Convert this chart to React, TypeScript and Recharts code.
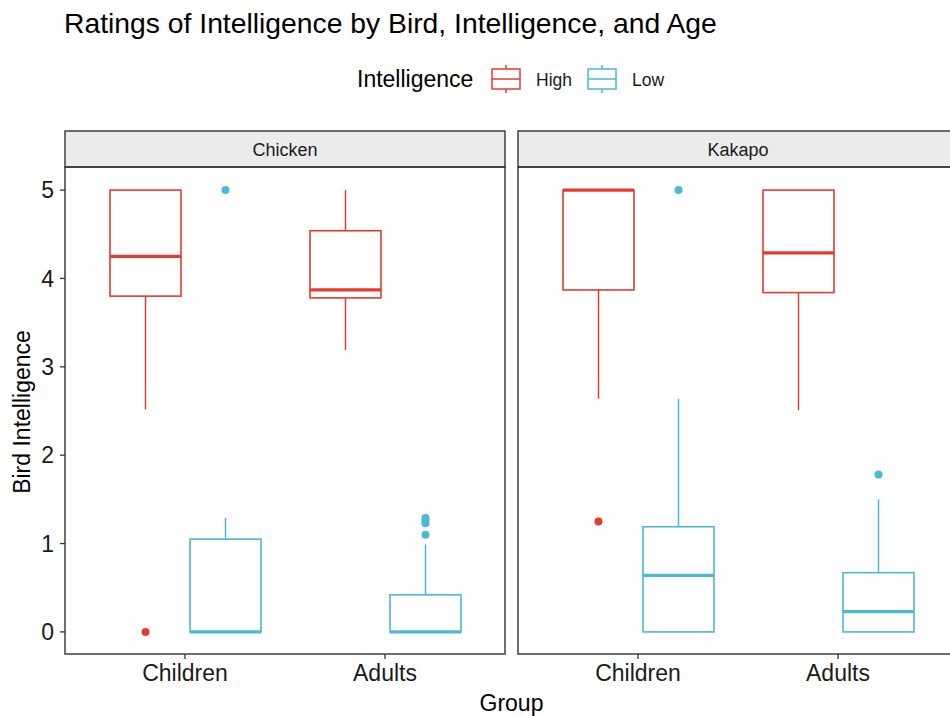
import React from 'react'
import { ComposedChart, Bar, XAxis, YAxis } from 'recharts'

const FONT = '"Liberation Sans", Arial, Helvetica, sans-serif'
const HIGH = '#E33B2E'
const LOW = '#4BB8D4'
const INK = '#1a1a1a'
const FRAME = '#333333'

const groups = ['Children', 'Adults']
const yTicks = [0, 1, 2, 3, 4, 5]

// five-number summaries per group: [lower whisker, Q1, median, Q3, upper whisker]
const chickenHigh = [
  [2.52, 3.8, 4.25, 5, 5],
  [3.19, 3.78, 3.87, 4.54, 5],
]
const chickenLow = [
  [0, 0, 0, 1.05, 1.29],
  [0, 0, 0, 0.42, 0.99],
]
const kakapoHigh = [
  [2.64, 3.87, 5, 5, 5],
  [2.51, 3.84, 4.29, 5, 5],
]
const kakapoLow = [
  [0, 0, 0.64, 1.19, 2.64],
  [0, 0, 0.23, 0.67, 1.5],
]

// outlying ratings per group
const chickenHighOut = [[0], []]
const chickenLowOut = [[5], [1.1, 1.23, 1.26, 1.29]]
const kakapoHighOut = [[1.25], []]
const kakapoLowOut = [[5], [1.78]]

type Row = {
  group: string
  high: number[]
  low: number[]
  highOut: number[]
  lowOut: number[]
}

const buildRows = (high: number[][], low: number[][], highOut: number[][], lowOut: number[][]): Row[] =>
  groups.map((group, i) => ({
    group,
    high: high[i],
    low: low[i],
    highOut: highOut[i],
    lowOut: lowOut[i],
  }))

const chickenRows = buildRows(chickenHigh, chickenLow, chickenHighOut, chickenLowOut)
const kakapoRows = buildRows(kakapoHigh, kakapoLow, kakapoHighOut, kakapoLowOut)

// The bar spans whisker to whisker; box, median and outliers are placed
// from that span, since the value axis is linear.
function boxShape(key: 'high' | 'low', color: string) {
  return (props: any) => {
    const { x, y, width, height, payload } = props
    const [lo, q1, med, q3, hi] = payload[key] as number[]
    const outs = payload[key + 'Out'] as number[]
    const top = Math.min(y, y + height)
    const bottom = Math.max(y, y + height)
    const ppu = (bottom - top) / (hi - lo)
    const py = (v: number) => top + (hi - v) * ppu
    const cx = x + width / 2
    return (
      <g>
        <line x1={cx} x2={cx} y1={py(hi)} y2={py(q3)} stroke={color} strokeWidth={1.5} />
        <line x1={cx} x2={cx} y1={py(q1)} y2={py(lo)} stroke={color} strokeWidth={1.5} />
        <rect x={x} y={py(q3)} width={width} height={py(q1) - py(q3)} fill="#fff" stroke={color} strokeWidth={1.6} />
        <line x1={x} x2={x + width} y1={py(med)} y2={py(med)} stroke={color} strokeWidth={3.2} />
        {outs.map((v, i) => (
          <circle key={i} cx={cx} cy={py(v)} r={4} fill={color} />
        ))}
      </g>
    )
  }
}

const PLOT_H = 486
const AXIS_H = 62

function Panel({ rows, left, showY }: { rows: Row[]; left: number; showY: boolean }) {
  const yw = showY ? 65 : 0
  return (
    <div style={{ position: 'absolute', left: left - yw, top: 168 }}>
      <ComposedChart
        width={440 + yw}
        height={PLOT_H + AXIS_H}
        data={rows}
        margin={{ top: 0, right: 0, bottom: 0, left: 0 }}
        barGap={9}
      >
        <XAxis
          dataKey="group"
          type="category"
          padding={{ left: 20, right: 20 }}
          height={AXIS_H}
          axisLine={false}
          tickSize={5}
          tickMargin={6}
          tickLine={{ stroke: FRAME, strokeWidth: 1.3 }}
          tick={{ fill: INK, fontSize: 23, fontFamily: FONT }}
        />
        <YAxis
          type="number"
          domain={[-0.25, 5.25]}
          ticks={yTicks}
          allowDataOverflow
          hide={!showY}
          width={yw}
          axisLine={false}
          tickSize={5}
          tickMargin={6}
          tickLine={{ stroke: FRAME, strokeWidth: 1.3 }}
          tick={{ fill: INK, fontSize: 23, fontFamily: FONT }}
        />
        <Bar
          dataKey={(d: Row) => [d.high[0], d.high[4]]}
          barSize={71}
          shape={boxShape('high', HIGH)}
          isAnimationActive={false}
        />
        <Bar
          dataKey={(d: Row) => [d.low[0], d.low[4]]}
          barSize={71}
          shape={boxShape('low', LOW)}
          isAnimationActive={false}
        />
      </ComposedChart>
    </div>
  )
}

function LegendKey({ x, color }: { x: number; color: string }) {
  const cx = x + 14
  return (
    <g stroke={color} strokeWidth={1.5} fill="none">
      <line x1={cx} x2={cx} y1={65} y2={69} />
      <line x1={cx} x2={cx} y1={89} y2={93} />
      <rect x={x} y={69} width={28} height={20} />
      <line x1={x} x2={x + 28} y1={79} y2={79} />
    </g>
  )
}

function Strip({ x, label }: { x: number; label: string }) {
  return (
    <g>
      <rect x={x} y={131} width={440} height={36} fill="#EBEBEB" stroke={FRAME} strokeWidth={1.4} />
      <text x={x + 220} y={156} textAnchor="middle" fontSize={18} fill={INK}>
        {label}
      </text>
    </g>
  )
}

export default function App() {
  return (
    <div
      style={{
        position: 'absolute',
        left: 0,
        top: 0,
        width: 950,
        height: 716,
        overflow: 'hidden',
        background: '#fff',
        fontFamily: FONT,
      }}
    >
      <Panel rows={chickenRows} left={65} showY />
      <Panel rows={kakapoRows} left={518} showY={false} />
      <svg
        width={950}
        height={716}
        style={{ position: 'absolute', left: 0, top: 0, pointerEvents: 'none', fontFamily: FONT }}
      >
        <text x={64} y={33} fontSize={28.3} fill="#000">
          Ratings of Intelligence by Bird, Intelligence, and Age
        </text>

        <text x={357} y={87} fontSize={23} fill="#000">
          Intelligence
        </text>
        <LegendKey x={492} color={HIGH} />
        <text x={536} y={86} fontSize={17.5} fill={INK}>
          High
        </text>
        <LegendKey x={588} color={LOW} />
        <text x={632} y={86} fontSize={17.5} fill={INK}>
          Low
        </text>

        <Strip x={65} label="Chicken" />
        <Strip x={518} label="Kakapo" />
        <rect x={65} y={167} width={440} height={487} fill="none" stroke={FRAME} strokeWidth={1.4} />
        <rect x={518} y={167} width={440} height={487} fill="none" stroke={FRAME} strokeWidth={1.4} />

        <text x={511.5} y={711} textAnchor="middle" fontSize={23} fill="#000">
          Group
        </text>
        <text x={30} y={412} transform="rotate(-90 30 412)" textAnchor="middle" fontSize={23} fill="#000">
          Bird Intelligence
        </text>
      </svg>
    </div>
  )
}
